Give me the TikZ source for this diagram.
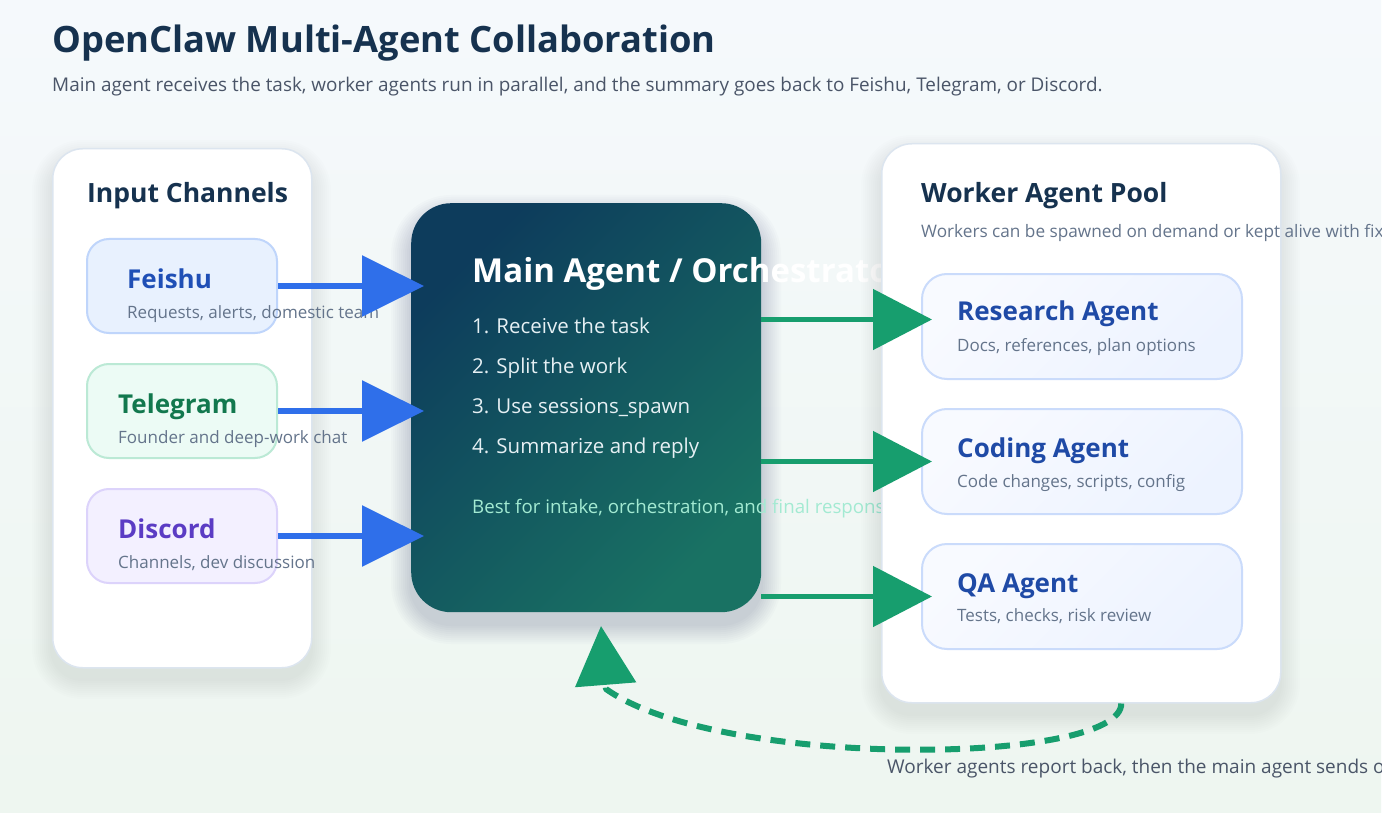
\documentclass[tikz,border=0pt]{standalone}
\usepackage{fontspec}
\setmainfont{Open Sans}
\usetikzlibrary{arrows.meta}
\definecolor{bgtop}{HTML}{F5F9FC}
\definecolor{bgbot}{HTML}{EEF6F0}
\definecolor{titlec}{HTML}{16324F}
\definecolor{subc}{HTML}{4A5568}
\definecolor{grayc}{HTML}{64748B}
\definecolor{cardline}{HTML}{DCE5EF}
\definecolor{feishufill}{HTML}{E8F1FE}
\definecolor{feishuline}{HTML}{BFD5FB}
\definecolor{feishuc}{HTML}{1F4FB6}
\definecolor{telefill}{HTML}{ECFBF5}
\definecolor{teleline}{HTML}{BBE9D5}
\definecolor{telec}{HTML}{12784E}
\definecolor{discfill}{HTML}{F3F0FF}
\definecolor{discline}{HTML}{DCD3FB}
\definecolor{discc}{HTML}{5B3CC4}
\definecolor{mainA}{HTML}{0D3C5C}
\definecolor{mainB}{HTML}{197263}
\definecolor{itemc}{HTML}{E6F0F4}
\definecolor{notec}{HTML}{A3EAD2}
\definecolor{wtop}{HTML}{F8FAFF}
\definecolor{wbot}{HTML}{EDF3FF}
\definecolor{wline}{HTML}{CADBFB}
\definecolor{workc}{HTML}{1F4AA6}
\definecolor{bluearr}{HTML}{2F6FEA}
\definecolor{greenarr}{HTML}{179E6E}
\begin{document}
\begin{tikzpicture}[x=1pt,y=-1pt,line join=round,
  card/.style={draw=cardline,line width=1.5pt,fill=white,rounded corners=30pt,anchor=north west,inner sep=0pt},
  cardshadow/.style={fill=black!70!blue,opacity=0.008},
  chan/.style={line width=2pt,rounded corners=22pt,anchor=north west,inner sep=0pt,minimum width=190pt,minimum height=94pt},
  worker/.style={draw=wline,line width=2pt,rounded corners=25pt,anchor=north west,inner sep=0pt,
    minimum width=320pt,minimum height=105pt,top color=wtop,bottom color=wbot,shading angle=45},
  mainbox/.style={rounded corners=40pt,anchor=north west,inner sep=0pt,top color=mainA,bottom color=mainB,shading angle=45},
  txt/.style={anchor=base west,inner sep=0pt},
  head/.style={txt,font=\fontsize{26.5}{31}\selectfont\bfseries,text=titlec},
  boxname/.style={txt,font=\fontsize{26}{31}\selectfont\bfseries},
  small/.style={txt,font=\fontsize{17}{21}\selectfont,text=grayc},
  stepline/.style={txt,font=\fontsize{20.5}{25}\selectfont,text=itemc},
  bluearrow/.style={draw=bluearr,line width=6pt,-{Triangle[length=62pt,width=60pt]}},
  greenarrow/.style={draw=greenarr,line width=5pt,-{Triangle[length=59pt,width=60pt]}}]
\useasboundingbox (0,0) rectangle (1387,813);
\fill[white] (1381,0) rectangle (1387,813);
\begin{scope}
\clip (0,0) rectangle (1381,813);
\shade[top color=bgtop,bottom color=bgbot] (0,0) rectangle (1381,813);
\node[txt,font=\fontsize{36.3}{43}\selectfont\bfseries,text=titlec] (title) at (52,53) {OpenClaw Multi-Agent Collaboration};
\node[txt,font=\fontsize{18.9}{23}\selectfont,text=subc] (subtitle) at (52,92) {Main agent receives the task, worker agents run in parallel, and the summary goes back to Feishu, Telegram, or Discord.};
\foreach \s in {2,4,...,20}
  \fill[cardshadow,rounded corners=30pt+\s] (52-\s,148-\s+12) rectangle (311+\s,667+\s+12);
\node[card,minimum width=259pt,minimum height=519pt] (inputs) at (52,148) {};
\node[head] (inputshead) at (87,203) {Input Channels};
\node[chan,fill=feishufill,draw=feishuline] (feishu) at (86,238) {};
\node[chan,fill=telefill,draw=teleline] (telegram) at (86,363) {};
\node[chan,fill=discfill,draw=discline] (discord) at (86,488) {};
\node[boxname,text=feishuc] (feishuname) at (127,288) {Feishu};
\node[small] (feishusub) at (127,318) {Requests, alerts, domestic team};
\node[boxname,text=telec] (telename) at (118,413) {Telegram};
\node[small] (telesub) at (118,443) {Founder and deep-work chat};
\node[boxname,text=discc] (discname) at (118,538) {Discord};
\node[small] (discsub) at (118,568) {Channels, dev discussion};
\foreach \s in {2,4,...,20}
  \fill[cardshadow,opacity=0.014,rounded corners=40pt+\s] (411-\s,203-\s+12) rectangle (761+\s,612+\s+12);
\node[mainbox,minimum width=350pt,minimum height=409pt] (mainagent) at (411,203) {};
\node[txt,font=\fontsize{33}{39}\selectfont\bfseries,text=white] (maintitle) at (472,283) {Main Agent / Orchestrator};
\node[stepline] (step1) at (472,333) {1. Receive the task};
\node[stepline] (step2) at (472,373) {2. Split the work};
\node[stepline] (step3) at (472,413) {3. Use sessions\_spawn};
\node[stepline] (step4) at (472,453) {4. Summarize and reply};
\node[txt,font=\fontsize{18.7}{23}\selectfont,text=notec] (mainnote) at (472,513) {Best for intake, orchestration, and final response};
\draw[bluearrow] (feishu.east) -- ([xshift=13pt]feishu.east -| mainagent.west);
\draw[bluearrow] (telegram.east) -- ([xshift=13pt]telegram.east -| mainagent.west);
\draw[bluearrow] (discord.east) -- ([xshift=13pt]discord.east -| mainagent.west);
\foreach \s in {2,4,...,20}
  \fill[cardshadow,rounded corners=30pt+\s] (881-\s,143-\s+12) rectangle (1280+\s,702+\s+12);
\node[card,minimum width=399pt,minimum height=559pt] (pool) at (881,143) {};
\node[head] (poolhead) at (921,203) {Worker Agent Pool};
\node[small,font=\fontsize{17.2}{21}\selectfont] (poolsub) at (921,238) {Workers can be spawned on demand or kept alive with fixe};
\node[worker] (research) at (921,273) {};
\node[worker] (coding) at (921,408) {};
\node[worker] (qa) at (921,543) {};
\node[boxname,text=workc] (researchname) at (957,320) {Research Agent};
\node[small] (researchsub) at (957,351) {Docs, references, plan options};
\node[boxname,text=workc] (codingname) at (957,457) {Coding Agent};
\node[small] (codingsub) at (957,487) {Code changes, scripts, config};
\node[boxname,text=workc] (qaname) at (957,592) {QA Agent};
\node[small] (qasub) at (957,621) {Tests, checks, risk review};
\coordinate (r1) at ([xshift=11pt,yshift=7pt]research.west);
\coordinate (r2) at ([xshift=11pt]coding.west);
\coordinate (r3) at ([xshift=11pt]qa.west);
\draw[greenarrow] (mainagent.east |- r1) -- (r1);
\draw[greenarrow] (mainagent.east |- r2) -- (r2);
\draw[greenarrow] (mainagent.east |- r3) -- (r3);
\coordinate (back) at ([xshift=40pt]pool.south);
\coordinate (retbase) at (606,689);
\coordinate (ret) at (601,626);
\draw[greenarr,line width=6pt,dash pattern=on 15pt off 10pt,-{Triangle[length=59pt,width=60pt]}]
  (back) .. controls (1122,765) and (720,770) .. (retbase) -- (ret);
\node[txt,font=\fontsize{19}{23}\selectfont,text=subc] (backnote) at (887,773) {Worker agents report back, then the main agent sends o};
\end{scope}
\end{tikzpicture}
\end{document}
